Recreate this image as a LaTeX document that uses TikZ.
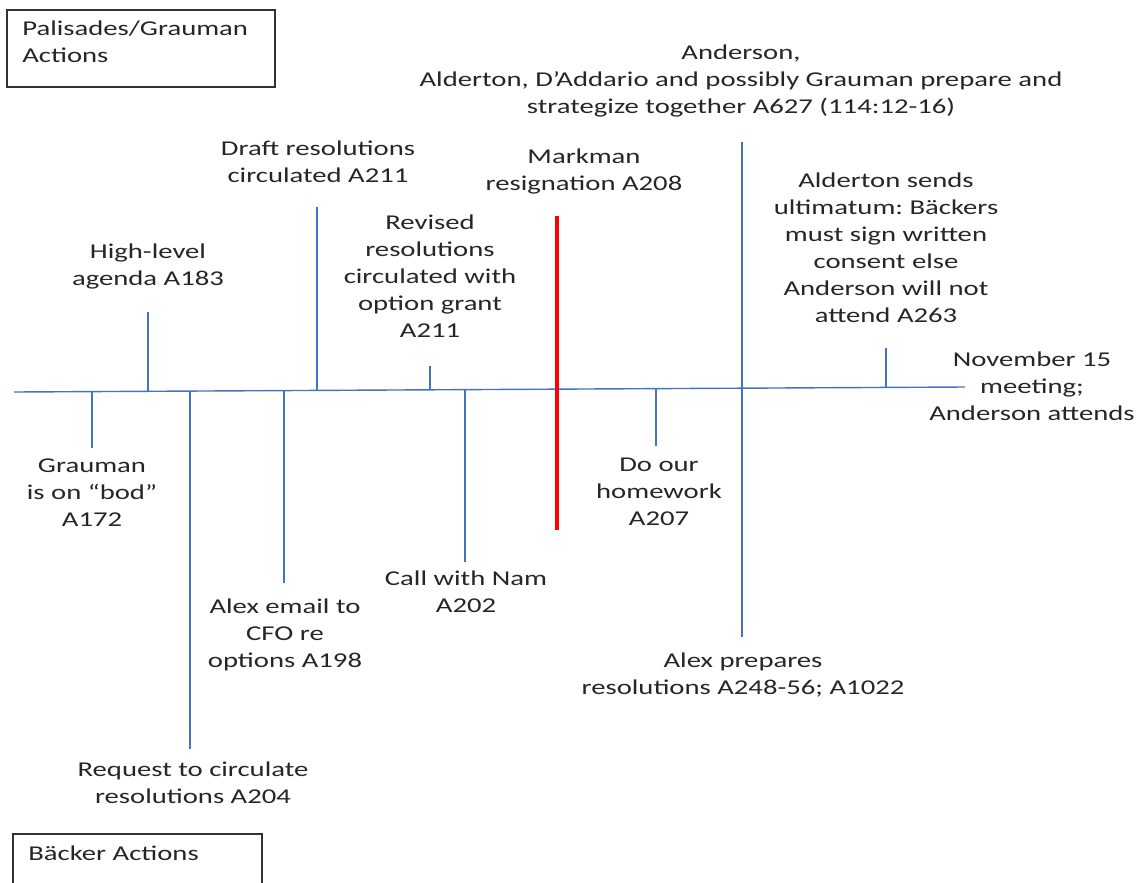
\documentclass[tikz,border=0pt]{standalone}
\usepackage{fontspec}
\setmainfont{Carlito}[FakeStretch=1.36]
\frenchspacing
\definecolor{lineblue}{HTML}{4472C4}
\tikzset{
  tickline/.style={lineblue, line width=1pt},
  eventlabel/.style={align=center, inner sep=0pt, text=black!85},
  legendlabel/.style={align=left, inner sep=0pt, anchor=west, text=black!85},
  legendbox/.style={black!80, line width=0.8pt},
}
\begin{document}
\begin{tikzpicture}[x=0.025cm, y=-0.025cm, font=\fontsize{15pt}{19.2pt}\selectfont]
  \useasboundingbox (0,0) rectangle (1136,882);
  % legend boxes
  \draw[legendbox] (7,10) rectangle (275,87);
  \node[legendlabel] (pgactions) at (22,42) {Palisades/Grauman\\Actions};
  \draw[legendbox] (13,890) -- (13,834) -- (262,834) -- (262,890);
  \node[legendlabel] (backeractions) at (28,853) {Bäcker Actions};
  % timeline
  \draw[tickline] (14,392) -- (965,387);
  \foreach \x/\y in {148/312, 317/207, 430/366, 886/348, 92/448, 190/749, 284/583, 465/562, 656/446}
    \draw[tickline] (\x,{392-0.00526*(\x-14)}) -- (\x,\y);
  \draw[tickline] (742,142) -- (742,637);
  \draw[red, line width=2.8pt] (557,216) -- (557,530);
  % above the line
  \node[eventlabel] (agenda) at (148,266) {High-level\\agenda A183};
  \node[eventlabel] (draft) at (318,162) {Draft resolutions\\circulated A211};
  \node[eventlabel] (revised) at (430,276) {Revised\\resolutions\\circulated with\\option grant\\A211};
  \node[eventlabel] (markman) at (584,171) {Markman\\resignation A208};
  \node[eventlabel] (strategize) at (741,81) {Anderson,\\Alderton, D’Addario and possibly Grauman prepare and\\strategize together A627 (114:12-16)};
  \node[eventlabel] (ultimatum) at (886,248) {Alderton sends\\ultimatum: Bäckers\\must sign written\\consent else\\Anderson will not\\attend A263};
  \node[eventlabel] (meeting) at (1032,386) {November 15\\meeting;\\Anderson attends};
  % below the line
  \node[eventlabel] (bod) at (92,493) {Grauman\\is on “bod”\\A172};
  \node[eventlabel] (request) at (193,783) {Request to circulate\\resolutions A204};
  \node[eventlabel] (cfo) at (285,635) {Alex email to\\CFO re\\options A198};
  \node[eventlabel] (nam) at (466,592) {Call with Nam\\A202};
  \node[eventlabel] (homework) at (659,492) {Do our\\homework\\A207};
  \node[eventlabel] (prepares) at (743,675) {Alex prepares\\resolutions A248-56; A1022};
\end{tikzpicture}
\end{document}
